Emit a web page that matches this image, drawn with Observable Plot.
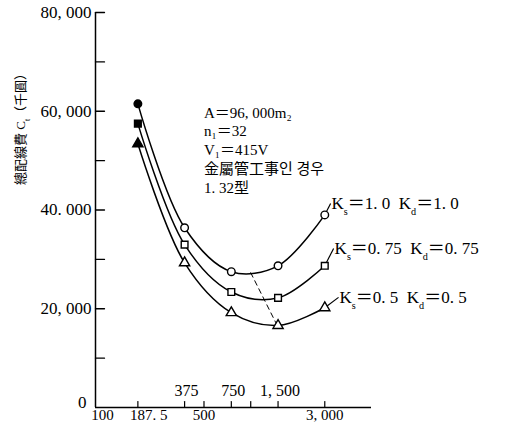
<!DOCTYPE html>
<html><head><meta charset="utf-8">
<script src="https://cdn.jsdelivr.net/npm/d3@7"></script>
<script src="https://cdn.jsdelivr.net/npm/@observablehq/plot@0.6"></script>
<style>body{margin:0;background:#fff;}</style>
</head><body><div id="chart"></div>
<script>
// data
const sizes = [187.5, 375, 750, 1500, 3000];
const costK100 = [61500, 36400, 27500, 28700, 39000];
const costK075 = [57500, 33000, 23400, 22200, 28700];
const costK050 = [53400, 29300, 19200, 16600, 20200];
const seriesKeys = ["K100", "K075", "K050"];
const seriesSymbols = ["circle", "square", "triangle"];
const seriesLabels = ["K_s＝1. 0  K_d＝1. 0", "K_s＝0. 75  K_d＝0. 75", "K_s＝0. 5  K_d＝0. 5"];
const labelX = [3270, 3420, 3680];
const labelY = [41300, 32200, 22300];
const minLocusX = [1000, 1450];
const minLocusY = [27300, 17200];
const yTicksMajor = [0, 20000, 40000, 60000, 80000];
const yTickLabels = ["0", "20, 000", "40. 000", "60, 000", "80, 000"];
const yTicksMinor = [10000, 30000, 50000, 70000];
const xTicks = [187.5, 375, 500, 750, 1000, 1500, 3000];
const xBelowValues = [100, 187.5, 500, 3000];
const xBelowLabels = ["100", "187. 5", "500", "3, 000"];
const xAboveValues = [375, 750, 1500];
const xAboveLabels = ["375", "750", "1, 500"];
const noteText = ["A＝96, 000m₂", "n₁＝32", "V₁＝415V", "金屬管工事인 경우", "1. 32型"];
const noteX = 500, noteY = 61400;
const yTitle = "總配線費 C_t（千圓）";

const allCosts = [costK100, costK075, costK050];
const points = [];
seriesKeys.forEach((k, s) => sizes.forEach((x, i) => points.push({series: k, s, i, x, y: allCosts[s][i]})));
const labels = seriesKeys.map((k, s) => ({series: k, x: labelX[s], y: labelY[s], text: seriesLabels[s]}));
const leaders = seriesKeys.map((k, s) => ({series: k, x1: sizes[sizes.length - 1], y1: allCosts[s][sizes.length - 1], x2: labelX[s], y2: labelY[s]}));
const below = xBelowValues.map((v, i) => ({v, t: xBelowLabels[i]}));

const tickShape = {draw(ctx, l) { ctx.moveTo(0, 0); ctx.lineTo(0, -l); }};
const font = "'Liberation Serif', 'DejaVu Serif', 'Noto Sans CJK KR', serif";

const marks = [
  Plot.ruleX([100], {y1: 0, y2: 80000, strokeWidth: 1.5}),
  Plot.ruleY([0], {x1: 100, x2: 6000, strokeWidth: 1.5}),
  Plot.vector(yTicksMajor.concat(yTicksMinor).filter(v => v > 0), {x: 100, y: d => d, length: 9, rotate: 90, anchor: "start", shape: tickShape, strokeWidth: 1.3}),
  Plot.vector(xTicks, {x: d => d, y: 0, length: 6, anchor: "start", shape: tickShape, strokeWidth: 1.2}),
  Plot.text(yTicksMajor.map((v, i) => ({v, t: yTickLabels[i]})).filter(d => d.v > 0), {x: 100, y: "v", text: "t", textAnchor: "end", dx: -4, fontSize: 17}),
  Plot.text([{v: 0, t: yTickLabels[0]}], {x: 100, y: "v", text: "t", textAnchor: "end", dx: -9, dy: -5, fontSize: 17}),
  Plot.text(below.slice(0, 1), {x: "v", y: 0, text: "t", dy: 8, dx: 7, fontSize: 15}),
  Plot.text(below.slice(1, 2), {x: "v", y: 0, text: "t", dy: 8, dx: 11, fontSize: 15}),
  Plot.text(below.slice(2), {x: "v", y: 0, text: "t", dy: 8, dx: 0, fontSize: 15}),
  Plot.text(xAboveValues.map((v, i) => ({v, t: xAboveLabels[i]})), {x: "v", y: 0, text: "t", dy: -17, dx: 2, fontSize: 16}),
  Plot.line(minLocusX.map((x, i) => ({x, y: minLocusY[i]})), {x: "x", y: "y", strokeDasharray: "5,4", strokeWidth: 1}),
  Plot.line(points, {x: "x", y: "y", z: "series", curve: "catmull-rom", strokeWidth: 1.5}),
  Plot.link(leaders, {x1: "x1", y1: "y1", x2: "x2", y2: "y2", strokeWidth: 1.2}),
  Plot.dot(points.filter(d => d.i > 0), {x: "x", y: "y", symbol: d => seriesSymbols[d.s], r: 3.8, fill: "white", stroke: "black", strokeWidth: 1.4}),
  Plot.dot(points.filter(d => d.i === 0), {x: "x", y: "y", symbol: d => seriesSymbols[d.s], r: 3.8, fill: "black", stroke: "black", strokeWidth: 1.4}),
  Plot.text(labels, {x: "x", y: "y", text: "text", textAnchor: "start", dx: 1, fontSize: 17}),
  Plot.text([noteText.join("\n")], {x: noteX, y: noteY, text: d => d, textAnchor: "start", lineAnchor: "top", lineHeight: 1.25, fontSize: 15}),
  Plot.text([yTitle], {x: 100, y: 40000, text: d => d, rotate: -90, dx: -75, dy: -25, fontSize: 13, frameAnchor: "left"})
];

const chart = Plot.plot({
  width: 511, height: 423,
  marginLeft: 95, marginRight: 140, marginTop: 12, marginBottom: 16,
  x: {type: "log", domain: [100, 6000], axis: null},
  y: {domain: [0, 80000], axis: null},
  symbol: {domain: seriesSymbols, range: seriesSymbols},
  style: {fontFamily: font, color: "black", background: "white", overflow: "visible"},
  marks
});

// subscripts: "_x" -> small lowered tspan
chart.querySelectorAll("text, tspan").forEach(el => {
  if (el.children.length) return;
  const s = el.textContent;
  if (!s.includes("_")) return;
  el.textContent = "";
  s.split(/_(\S)/).forEach((p, i) => {
    if (!p) return;
    const t = document.createElementNS("http://www.w3.org/2000/svg", "tspan");
    t.textContent = p;
    if (i % 2) { t.setAttribute("font-size", "60%"); t.setAttribute("baseline-shift", "sub"); }
    el.appendChild(t);
  });
});
document.getElementById("chart").appendChild(chart);
</script>
</body></html>
